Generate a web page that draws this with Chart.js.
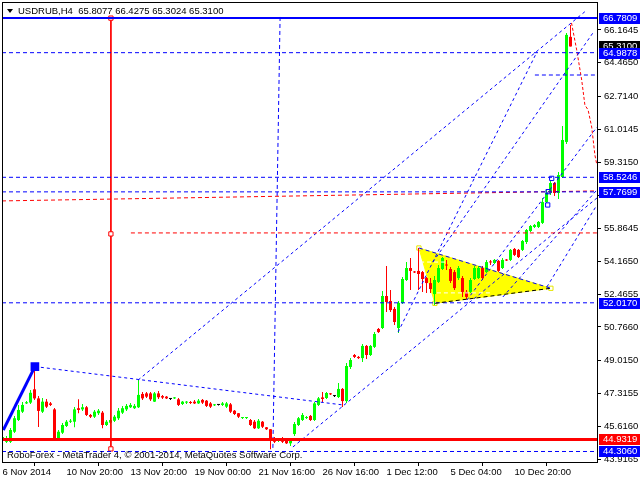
<!DOCTYPE html>
<html>
<head>
<meta charset="utf-8">
<style>
  html, body { margin: 0; padding: 0; background: #fff; }
  canvas { display: block; }
</style>
<script src="https://cdn.jsdelivr.net/npm/chart.js@4.4.1/dist/chart.umd.min.js"></script>
</head>
<body>
<canvas id="chart" width="640" height="480"></canvas>
<script>
const symbolTitle = "USDRUB,H4  65.8077 66.4275 65.3024 65.3100";
const copyright = "RoboForex - MetaTrader 4, \u00a9 2001-2014, MetaQuotes Software Corp.";

// time axis: bar index of each label
const timeLabels = ["6 Nov 2014", "10 Nov 20:00", "13 Nov 20:00", "19 Nov 00:00", "21 Nov 16:00",
    "26 Nov 16:00", "1 Dec 12:00", "5 Dec 04:00", "10 Dec 20:00"];
const timeLabelBars = [0, 16, 32, 48, 64, 80, 96, 112, 128];
const barRange = [-0.125, 148.625];

const priceTicks = [66.1645, 64.4650, 62.7140, 61.0145, 59.3150, 57.5655, 55.8645, 54.1650,
    52.4655, 50.7660, 49.0150, 47.3155, 45.6160, 43.9165];
const priceRange = [43.761, 67.616];

// H4 candles
const opens = [
    44.90, 44.81, 44.81, 45.33, 45.94, 46.37, 46.80, 46.84, 47.53, 47.06,
    46.37, 46.89, 46.80, 46.49, 44.99, 45.28, 45.63, 45.85, 45.85, 46.55,
    46.49, 46.60, 46.20, 46.11, 46.29, 46.32, 45.68, 45.80, 45.90, 46.03,
    46.32, 46.49, 46.60, 46.55, 46.60, 47.29, 47.32, 47.32, 46.89, 47.32,
    47.18, 47.15, 47.03, 47.06, 47.01, 46.77, 46.84, 46.86, 46.89, 46.80,
    46.98, 46.94, 46.80, 46.70, 46.72, 46.72, 46.63, 46.75, 46.42, 46.29,
    46.04, 46.04, 45.94, 45.85, 45.51, 45.85, 45.56, 45.46, 44.99, 44.87,
    44.99, 44.90, 44.73, 45.21, 45.68, 45.94, 46.04, 46.15, 45.94, 46.72,
    47.11, 47.08, 47.30, 47.18, 47.13, 47.55, 46.92, 48.69, 49.31, 49.21,
    49.15, 49.78, 49.31, 49.73, 50.66, 50.71, 52.37, 52.11, 51.70, 50.71,
    52.01, 53.20, 53.82, 53.61, 53.67, 53.61, 53.30, 53.04, 52.47, 53.10,
    53.77, 53.98, 53.77, 53.61, 53.30, 53.30, 52.58, 52.58, 53.25, 53.30,
    53.82, 53.61, 54.13, 54.08, 54.19, 53.82, 54.24, 54.24, 54.81, 54.76,
    54.76, 55.17, 55.74, 55.95, 55.95, 56.16, 57.24, 57.71, 58.23, 57.71,
    58.54, 60.36, 65.8077
];
const highs = [
    45.11, 45.11, 45.52, 46.15, 46.72, 46.87, 46.92, 47.49, 48.71, 47.18,
    47.08, 47.03, 46.87, 46.56, 45.42, 45.78, 45.94, 45.99, 46.61, 47.01,
    46.77, 46.67, 46.25, 46.46, 46.51, 46.41, 45.94, 46.04, 46.20, 46.56,
    46.67, 46.77, 46.82, 46.77, 48.01, 47.39, 47.39, 47.39, 47.39, 47.44,
    47.24, 47.18, 47.08, 47.13, 47.08, 46.92, 46.92, 46.92, 46.98, 47.03,
    47.03, 46.98, 46.87, 46.77, 46.74, 46.87, 46.87, 46.82, 46.46, 46.30,
    46.09, 46.09, 45.99, 45.94, 45.99, 45.89, 45.58, 45.47, 45.06, 45.01,
    45.06, 44.95, 45.01, 45.84, 46.09, 46.30, 46.15, 46.20, 46.87, 47.13,
    47.39, 47.39, 47.34, 47.24, 47.86, 47.60, 48.90, 49.15, 49.36, 49.26,
    49.88, 49.83, 49.83, 50.50, 50.71, 52.63, 53.93, 52.68, 51.80, 52.11,
    53.35, 54.13, 54.34, 53.67, 54.86, 53.67, 53.35, 53.30, 53.41, 53.98,
    54.39, 54.24, 53.87, 53.72, 53.93, 53.41, 52.68, 53.30, 53.93, 53.93,
    53.93, 54.24, 54.24, 54.29, 54.24, 54.34, 54.29, 54.81, 54.86, 54.81,
    55.27, 55.85, 56.05, 56.10, 56.26, 57.45, 57.87, 58.39, 58.28, 58.80,
    61.19, 66.01, 66.4275
];
const lows = [
    44.80, 44.75, 44.75, 45.27, 45.89, 46.30, 46.77, 46.77, 46.98, 45.58,
    46.30, 46.56, 46.67, 44.90, 44.90, 45.21, 45.58, 45.78, 45.56, 46.29,
    46.41, 46.15, 46.04, 46.04, 46.20, 45.51, 45.63, 45.73, 45.84, 45.94,
    46.25, 46.41, 46.56, 46.51, 46.56, 46.98, 47.08, 46.92, 46.87, 47.03,
    47.03, 47.03, 46.98, 47.03, 46.67, 46.72, 46.77, 46.77, 46.77, 46.77,
    46.77, 46.61, 46.56, 46.67, 46.69, 46.67, 46.56, 46.30, 46.20, 46.04,
    45.99, 45.99, 45.63, 45.47, 45.47, 45.52, 45.42, 44.42, 44.75, 44.80,
    44.75, 44.69, 44.59, 45.11, 45.63, 45.89, 45.99, 45.89, 45.89, 46.67,
    46.87, 47.03, 47.24, 47.13, 47.08, 46.61, 46.82, 48.58, 49.15, 49.10,
    48.95, 49.10, 49.26, 49.67, 50.45, 50.66, 51.54, 51.54, 50.87, 50.45,
    51.96, 53.15, 52.68, 53.56, 52.68, 52.58, 52.53, 52.53, 51.90, 53.04,
    53.72, 53.72, 53.04, 52.68, 53.20, 52.32, 52.21, 52.53, 53.20, 53.25,
    53.20, 53.56, 53.98, 54.03, 53.61, 53.77, 54.19, 54.19, 54.44, 54.34,
    54.70, 55.07, 55.69, 55.90, 55.90, 56.10, 57.19, 57.61, 57.56, 57.40,
    58.49, 60.25, 65.3024
];
const closes = [
    45.06, 45.00, 45.42, 46.03, 46.46, 46.72, 46.86, 47.35, 47.06, 46.41,
    46.89, 46.63, 46.72, 44.99, 45.33, 45.68, 45.85, 45.90, 46.49, 46.46,
    46.60, 46.20, 46.11, 46.37, 46.42, 45.68, 45.85, 45.94, 46.11, 46.42,
    46.55, 46.67, 46.72, 46.67, 47.24, 47.06, 47.15, 47.01, 47.32, 47.12,
    47.10, 47.06, 47.03, 47.08, 46.72, 46.89, 46.87, 46.82, 46.80, 46.94,
    46.84, 46.67, 46.63, 46.72, 46.72, 46.80, 46.80, 46.37, 46.25, 46.11,
    46.08, 46.08, 45.68, 45.51, 45.90, 45.59, 45.46, 44.90, 44.81, 44.94,
    44.81, 44.73, 44.90, 45.73, 46.03, 46.20, 46.09, 45.94, 46.80, 47.06,
    47.03, 47.34, 47.27, 47.18, 47.55, 46.92, 48.74, 49.05, 49.21, 49.15,
    49.78, 49.31, 49.78, 50.40, 50.50, 52.37, 52.06, 51.64, 51.02, 52.01,
    53.25, 53.82, 53.67, 53.59, 53.51, 53.25, 53.04, 52.73, 53.20, 53.82,
    54.34, 53.95, 53.15, 52.78, 53.82, 52.58, 52.32, 53.20, 53.82, 53.82,
    53.30, 54.13, 54.11, 54.24, 53.67, 54.24, 54.21, 54.76, 54.50, 54.39,
    55.22, 55.79, 56.00, 56.05, 56.21, 57.24, 57.71, 58.23, 57.71, 58.64,
    60.46, 65.91, 65.3100
];

// horizontal levels
const topLevel = 66.7809;
const blueLevels = [64.9878, 58.5246, 57.7699, 52.0170, 44.3060];
const redLevel = 44.9319;
const shortBlueLevel = [[133.1, 63.83], [148.625, 63.83]];
const shortRedLevel = [[32.1, 55.64], [148.625, 55.64]];
const slopedRed = [[-0.125, 57.30], [148.625, 57.82]];

// trend lines as [bar, price]
const impulse = [[0.2, 45.42], [8.1, 48.71]];
const upperFan = [[8.1, 48.71], [85.1, 46.72]];
const trendA = [[33.9, 48.01], [146.1, 67.20]];
const trendB = [[72.6, 44.54], [148.6, 57.45]];
const trendC = [[98.9, 50.50], [133.6, 65.02]];
const trendD = [[107.6, 54.13], [147.6, 66.01]];
const trendE = [[116.1, 52.16], [148.6, 61.13]];
const trendF = [[125.1, 52.32], [148.6, 57.87]];
const trendG = [[136.1, 52.84], [148.6, 57.09]];
const blueVertical = [[69.4, 66.84], [67.6, 44.49]];
const redVertical = [[27.1, 66.78], [27.1, 55.59], [27.1, 44.44]];
const forecast = [[142.25, 66.53], [143.55, 65.13], [144.8, 63.57], [145.6, 62.27],
    [146.4, 62.02], [147.3, 61.13], [148.1, 59.68], [148.6, 59.16]];
const triangle = [[104.1, 54.86], [108.1, 51.99], [137.1, 52.77], [104.1, 54.86]];
const triangleMarks = [[104.4, 54.13], [111.1, 54.13], [108.6, 52.53], [122.6, 52.53]];
const blueMarks = [[137.3, 58.47], [136.4, 57.78], [136.3, 57.09]];

const priceTags = [65.3100, 66.7809, 64.9878, 58.5246, 57.7699, 52.0170, 44.9319, 44.3060];
const tagColors = ["#000000", "#0000ff", "#0000ff", "#0000ff", "#0000ff", "#0000ff", "#ff0000", "#0000ff"];

const FONT = "'Liberation Sans', Arial, sans-serif";
const GREEN = "#00ff00", RED = "#ff0000", BLUE = "#0000ff";

const candleColors = opens.map((o, i) => closes[i] > o ? GREEN : (closes[i] < o ? RED : "#000000"));
const pts = arr => arr.map(p => ({ x: p[0], y: p[1] }));

function line(points, color, extra) {
    return Object.assign({
        type: "line",
        data: pts(points),
        borderColor: color,
        borderWidth: 1,
        borderDash: [3, 3],
        pointRadius: 0,
        fill: false,
        tension: 0,
        order: 1
    }, extra || {});
}

const datasets = [
    // yellow triangle behind everything
    line(triangle, "#ffff00", { fill: "shape", backgroundColor: "#ffff00", borderDash: [], order: 20,
        pointRadius: [3, 3, 3, 0], pointStyle: "rect", pointBackgroundColor: "#ffffff", pointBorderColor: "#e6e600" }),
    {
        type: "bar",
        data: highs.map((h, i) => ({ x: i, y: [lows[i], h] })),
        backgroundColor: candleColors,
        barThickness: 1,
        grouped: false,
        borderWidth: 0,
        inflateAmount: 0,
        order: 10
    },
    {
        type: "bar",
        data: opens.map((o, i) => ({ x: i, y: [o, closes[i]] })),
        backgroundColor: candleColors,
        barThickness: 3,
        minBarLength: 1,
        grouped: false,
        borderWidth: 0,
        inflateAmount: 0,
        order: 9
    },
    line([triangle[0], triangle[2]], BLUE, { borderDash: [4, 3] }),
    line([triangle[1], triangle[2]], "#000000", { borderDash: [4, 3] }),
    line(triangleMarks.slice(0, 2), "#ffffff", { borderDash: [4, 3] }),
    line(triangleMarks.slice(2, 4), "#ffffff", { borderDash: [4, 3] }),
    line([[barRange[0], topLevel], [barRange[1], topLevel]], BLUE, { borderDash: [], borderWidth: 2 }),
    line([[barRange[0], redLevel], [barRange[1], redLevel]], RED, { borderDash: [], borderWidth: 3 })
];

blueLevels.forEach(v => datasets.push(line([[barRange[0], v], [barRange[1], v]], BLUE, { borderDash: [4, 3] })));
datasets.push(
    line(shortBlueLevel, BLUE, { borderDash: [4, 3] }),
    line(shortRedLevel, RED, { borderDash: [4, 3] }),
    line(slopedRed, RED, { borderDash: [4, 3] }),
    line(impulse, BLUE, { borderDash: [], borderWidth: 3, pointRadius: [0, 4], pointStyle: "rect",
        pointBackgroundColor: BLUE, pointBorderColor: BLUE }),
    line(upperFan, BLUE),
    line(trendA, BLUE),
    line(trendB, BLUE),
    line(trendC, BLUE),
    line(trendD, BLUE),
    line(trendE, BLUE),
    line(trendF, BLUE),
    line(trendG, BLUE),
    line(blueVertical, BLUE, { borderDash: [4, 3] }),
    line(redVertical, RED, { borderDash: [], pointRadius: 3, pointStyle: "rect",
        pointBackgroundColor: "#ffffff", pointBorderColor: RED }),
    line(forecast, RED, { borderDash: [3, 2] }),
    line(blueMarks, "rgba(0,0,0,0)", { pointRadius: 3, pointStyle: "rect",
        pointBackgroundColor: "rgba(0,0,0,0)", pointBorderColor: BLUE })
);

const mt4Decor = {
    id: "mt4Decor",
    afterDraw(chart) {
        const { ctx, chartArea: a, scales: { y } } = chart;
        ctx.save();
        ctx.strokeStyle = "#000";
        ctx.lineWidth = 1;
        ctx.strokeRect(a.left + 0.5, a.top + 0.5, a.right - a.left, a.bottom - a.top);

        ctx.font = "9.5px " + FONT;
        ctx.textBaseline = "middle";
        ctx.fillStyle = "#000";
        ctx.fillText(symbolTitle, 18, 11);
        ctx.fillText(copyright, 7, 455);
        ctx.beginPath();
        ctx.moveTo(7, 9); ctx.lineTo(13, 9); ctx.lineTo(10, 13); ctx.closePath();
        ctx.fill();

        priceTags.forEach((v, k) => {
            const py = Math.round(y.getPixelForValue(v));
            ctx.fillStyle = tagColors[k];
            ctx.fillRect(599, py - 5, 41, 11);
            ctx.fillStyle = "#fff";
            ctx.fillText(v.toFixed(4), 603, py + 0.5);
        });
        ctx.restore();
    }
};

new Chart(document.getElementById("chart"), {
    type: "bar",
    data: { datasets: datasets },
    options: {
        responsive: false,
        animation: false,
        devicePixelRatio: 1,
        layout: { autoPadding: false, padding: { left: 2, top: 2, right: 0, bottom: 0 } },
        plugins: { legend: { display: false }, tooltip: { enabled: false } },
        scales: {
            x: {
                type: "linear",
                min: barRange[0],
                max: barRange[1],
                offset: false,
                border: { display: false },
                grid: { drawOnChartArea: false, drawTicks: true, tickLength: 4, color: "#000" },
                afterBuildTicks: s => { s.ticks = timeLabelBars.map(v => ({ value: v })); },
                afterFit: s => { s.height = 18; s.paddingLeft = 0; s.paddingRight = 0; },
                ticks: {
                    autoSkip: false,
                    maxRotation: 0,
                    align: "start",
                    padding: 1,
                    color: "#000",
                    font: { family: FONT, size: 9.5 },
                    callback: (v, i) => timeLabels[i]
                }
            },
            y: {
                type: "linear",
                position: "right",
                min: priceRange[0],
                max: priceRange[1],
                border: { display: false },
                grid: { drawOnChartArea: false, drawTicks: true, tickLength: 4, color: "#000" },
                afterBuildTicks: s => { s.ticks = priceTicks.map(v => ({ value: v })); },
                afterFit: s => { s.width = 43; s.paddingTop = 0; s.paddingBottom = 0; },
                ticks: {
                    autoSkip: false,
                    padding: 3,
                    color: "#000",
                    font: { family: FONT, size: 9.5 },
                    callback: v => v.toFixed(4)
                }
            }
        }
    },
    plugins: [mt4Decor]
});
</script>
</body>
</html>
